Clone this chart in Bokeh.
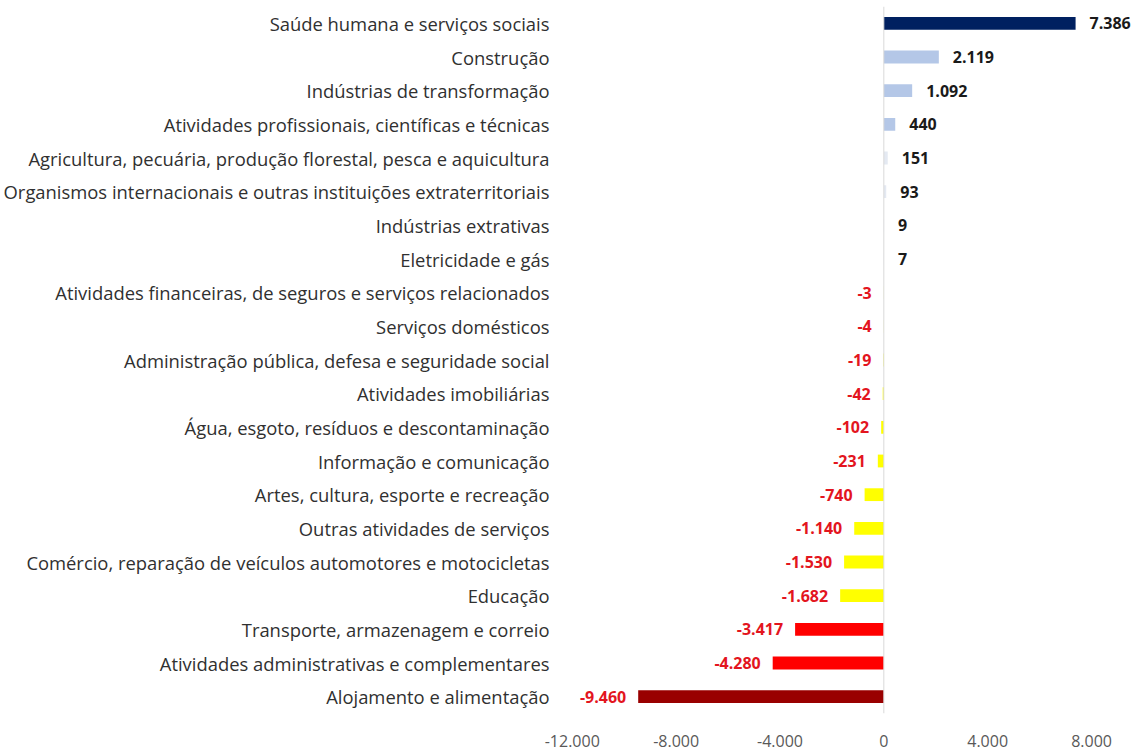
from bokeh.plotting import figure
from bokeh.models import ColumnDataSource, FactorRange, Range1d, FixedTicker, Span
from bokeh.core.properties import value
from bokeh.embed import file_html
from bokeh.resources import INLINE

categories = [
    "Saúde humana e serviços sociais",
    "Construção",
    "Indústrias de transformação",
    "Atividades profissionais, científicas e técnicas",
    "Agricultura, pecuária, produção florestal, pesca e aquicultura",
    "Organismos internacionais e outras instituições extraterritoriais",
    "Indústrias extrativas",
    "Eletricidade e gás",
    "Atividades financeiras, de seguros e serviços relacionados",
    "Serviços domésticos",
    "Administração pública, defesa e seguridade social",
    "Atividades imobiliárias",
    "Água, esgoto, resíduos e descontaminação",
    "Informação e comunicação",
    "Artes, cultura, esporte e recreação",
    "Outras atividades de serviços",
    "Comércio, reparação de veículos automotores e motocicletas",
    "Educação",
    "Transporte, armazenagem e correio",
    "Atividades administrativas e complementares",
    "Alojamento e alimentação",
]
values = [7386, 2119, 1092, 440, 151, 93, 9, 7, -3, -4, -19, -42, -102, -231,
          -740, -1140, -1530, -1682, -3417, -4280, -9460]
bar_colors = ["#002060", "#b4c7e7", "#b4c7e7", "#b4c7e7", "#e4e9f2", "#e4e9f2",
              "#e4e9f2", "#e4e9f2", "#ffff00", "#ffff00", "#ffff00", "#ffff00",
              "#ffff00", "#ffff00", "#ffff00", "#ffff00", "#ffff00", "#ffff00",
              "#ff0000", "#ff0000", "#990000"]
tick_values = [-12000, -8000, -4000, 0, 4000, 8000]
tick_labels = ["-12.000", "-8.000", "-4.000", "0", "4.000", "8.000"]

labels = [f"{v:,}".replace(",", ".") for v in values]
text_colors = ["#1a1a1a" if v > 0 else "#e3151e" for v in values]
aligns = ["left" if v > 0 else "right" for v in values]
offsets = [14 if v > 0 else -12 for v in values]

src = ColumnDataSource(dict(cat=categories, val=values, color=bar_colors,
                            label=labels, tcolor=text_colors, align=aligns, xoff=offsets))

y_range = FactorRange(factors=list(reversed(categories)))

p = figure(width=1136, height=750, y_range=y_range, x_range=Range1d(-12414, 9732),
           output_backend="svg", toolbar_location=None,
           min_border_left=558, min_border_right=0, min_border_top=6, min_border_bottom=37)
p.outline_line_color = None
p.grid.visible = False
p.background_fill_color = "white"
p.border_fill_color = "white"

p.hbar(y="cat", left=0, right="val", height=0.38, fill_color="color", line_color=None, source=src)
p.add_layout(Span(location=0, dimension="height", line_color="#d9d9d9", line_width=1))

p.text(x="val", y="cat", text="label", x_offset="xoff", text_align="align",
       text_baseline="middle", text_color="tcolor", text_font_style="bold",
       text_font_size="16px", text_font=value("Open Sans"), source=src)

p.yaxis.axis_line_color = None
p.yaxis.major_tick_line_color = None
p.yaxis.minor_tick_line_color = None
p.yaxis.major_label_text_font = "Open Sans"
p.yaxis.major_label_text_font_size = "18.4px"
p.yaxis.major_label_text_color = "#303030"
p.yaxis.major_label_standoff = 6

p.xaxis.ticker = FixedTicker(ticks=tick_values)
p.xaxis.major_label_overrides = dict(zip(tick_values, tick_labels))
p.xaxis.axis_line_color = None
p.xaxis.major_tick_line_color = None
p.xaxis.minor_tick_line_color = None
p.xaxis.major_label_text_font = "Open Sans"
p.xaxis.major_label_text_font_size = "16px"
p.xaxis.major_label_text_color = "#595959"
p.xaxis.major_label_standoff = 15

open("out.html", "w").write(file_html(p, INLINE))
